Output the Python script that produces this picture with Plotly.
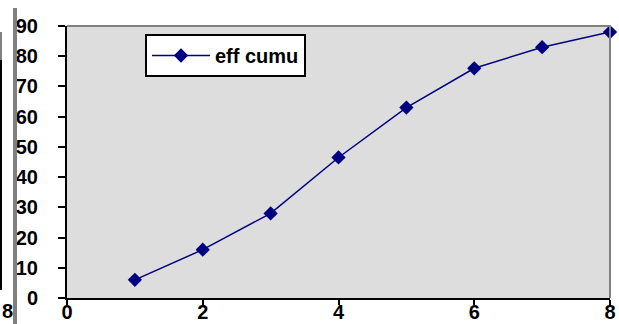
import plotly.graph_objects as go

x_vals = [1, 2, 3, 4, 5, 6, 7, 8]
eff_cumu = [6, 16, 28, 46.5, 63, 76, 83, 88]
series_name = "eff cumu"
y_ticks = [0, 10, 20, 30, 40, 50, 60, 70, 80, 90]
x_ticks = [0, 2, 4, 6, 8]

W, H = 619, 324
L, R, T, B = 67, 9, 26, 26
PW = W - L - R
PH = H - T - B

def px(v):
    return (v - L) / PW

def py(v):
    return (H - B - v) / PH

fig = go.Figure()
fig.add_trace(go.Scatter(
    x=x_vals, y=eff_cumu, name=series_name, mode="lines+markers",
    line=dict(color="#000080", width=1.5),
    marker=dict(symbol="diamond", size=11, color="#000080"),
    cliponaxis=False,
))

font_family = "Liberation Sans, Arial, sans-serif"

fig.update_layout(
    width=W, height=H,
    margin=dict(l=L, r=R, t=T, b=B, pad=0, autoexpand=False),
    paper_bgcolor="white",
    plot_bgcolor="#DDDDDD",
    showlegend=True,
    legend=dict(
        x=px(145), y=py(34), xanchor="left", yanchor="top",
        bgcolor="white", bordercolor="black", borderwidth=2,
        font=dict(family=font_family, size=20, color="black", weight="bold"),
        itemwidth=58,
    ),
    xaxis=dict(
        range=[0, 8], tickvals=x_ticks, showgrid=False, zeroline=False,
        showline=True, linecolor="black", linewidth=2, automargin=False,
        ticks="outside", ticklen=5, tickwidth=2, tickcolor="black",
        ticklabelstandoff=-10,
        tickfont=dict(family=font_family, size=20, color="black", weight="bold"),
    ),
    yaxis=dict(
        range=[0, 90], tickvals=y_ticks, showgrid=False, zeroline=False,
        showline=True, linecolor="black", linewidth=2, automargin=False,
        ticks="outside", ticklen=7, tickwidth=2, tickcolor="black",
        ticklabelstandoff=16,
        tickfont=dict(family=font_family, size=20, color="black", weight="bold"),
    ),
    shapes=[
        dict(type="line", xref="paper", yref="paper", x0=0, x1=1, y0=1, y1=1,
             line=dict(color="#808080", width=2)),
        dict(type="line", xref="paper", yref="paper", x0=1, x1=1, y0=0, y1=1,
             line=dict(color="#808080", width=2)),
        dict(type="line", xref="paper", yref="paper", x0=px(15), x1=px(15), y0=py(8), y1=py(324),
             line=dict(color="#808080", width=4)),
        dict(type="line", xref="paper", yref="paper", x0=px(1), x1=px(1), y0=py(60), y1=py(290),
             line=dict(color="black", width=2)),
        dict(type="line", xref="paper", yref="paper", x0=px(1), x1=px(1), y0=py(32), y1=py(60),
             line=dict(color="#808080", width=2)),
    ],
    annotations=[
        dict(text="8", xref="paper", yref="paper", x=px(0), y=py(298), xanchor="left", yanchor="top",
             showarrow=False, font=dict(family=font_family, size=20, color="black", weight="bold")),
    ],
)

fig.write_html("out.html")
